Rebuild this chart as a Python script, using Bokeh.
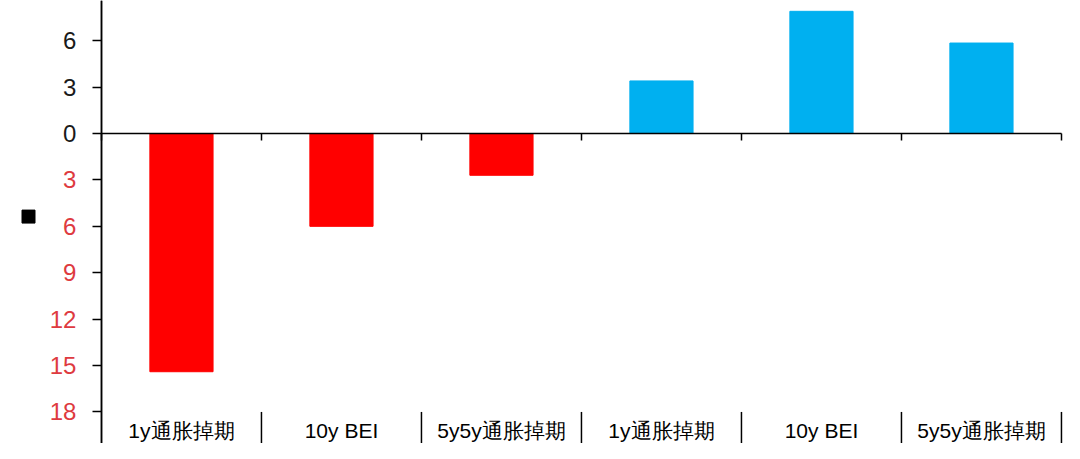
from bokeh.plotting import figure
from bokeh.models import LinearAxis, FixedTicker, Range1d, ColumnDataSource
from bokeh.core.properties import value
from bokeh.embed import file_html
from bokeh.resources import INLINE

# ---- data ----
categories = ["1y通胀掉期", "10y BEI", "5y5y通胀掉期", "1y通胀掉期", "10y BEI", "5y5y通胀掉期"]
left_group = [-15.4, -6.0, -2.7]
right_group = [3.4, 7.9, 5.85]
pos_ticks = [0, 3, 6]
neg_ticks = [-18, -15, -12, -9, -6, -3]

RED = "#FF0000"
BLUE = "#00B0F0"
LABEL_RED = "#DE3A40"

n = len(categories)
values = left_group + right_group
xs = [i + 0.5 for i in range(n)]
colors = [RED] * len(left_group) + [BLUE] * len(right_group)
src = ColumnDataSource(dict(x=xs, top=values, color=colors, cat=categories))

p = figure(width=1064, height=443, output_backend="svg", toolbar_location=None,
           x_range=Range1d(-0.631, n + 0.019), y_range=Range1d(-20.04, 8.60),
           x_axis_type=None, y_axis_type=None,
           min_border_left=0, min_border_right=0, min_border_top=0, min_border_bottom=0)
p.outline_line_color = None

p.vbar(x="x", top="top", bottom=0, width=0.395, color="color", source=src)

font = "Liberation Sans"

# y axis - positive labels (black)
ya = LinearAxis(ticker=FixedTicker(ticks=pos_ticks), fixed_location=0)
ya.major_label_overrides = {t: str(abs(t)) for t in pos_ticks}
# y axis - negative labels (red, absolute values)
yb = LinearAxis(ticker=FixedTicker(ticks=neg_ticks), fixed_location=0)
yb.major_label_overrides = {t: str(abs(t)) for t in neg_ticks}
for ax, col in ((ya, "#1a1a1a"), (yb, LABEL_RED)):
    ax.axis_line_color = "#000000"
    ax.axis_line_width = 1.5
    ax.major_tick_line_width = 1.5
    ax.major_tick_out = 9
    ax.major_tick_in = 0
    ax.minor_tick_line_color = None
    ax.major_label_standoff = 16
    ax.major_label_text_font = font
    ax.major_label_text_font_size = "24px"
    ax.major_label_text_color = col
    p.add_layout(ax, "left")

# x axis at zero with ticks at category boundaries
xa = LinearAxis(ticker=FixedTicker(ticks=list(range(n + 1))), fixed_location=0, bounds=(0, n))
xa.axis_line_width = 1.5
xa.major_tick_line_width = 1.5
xa.major_tick_out = 7
xa.major_tick_in = 0
xa.minor_tick_line_color = None
xa.major_label_text_color = None
xa.major_label_text_font_size = "0px"
p.add_layout(xa, "below")

# category separators and labels at bottom
bounds = list(range(1, n + 1))
p.segment(x0=bounds, x1=bounds, y0=[-18.0] * n, y1=[-20.1] * n, line_color="#000000", line_width=1.5)
p.text(x="x", y=-19.2, text="cat", source=src, text_align="center", text_baseline="middle",
       text_font=value(font), text_font_size="21px", text_color="#000000")

# small black marker at left (axis title glyph)
p.scatter(x=[-0.456], y=[-5.37], marker="square", size=13, color="#000000")

open("out.html", "w").write(file_html(p, INLINE))
